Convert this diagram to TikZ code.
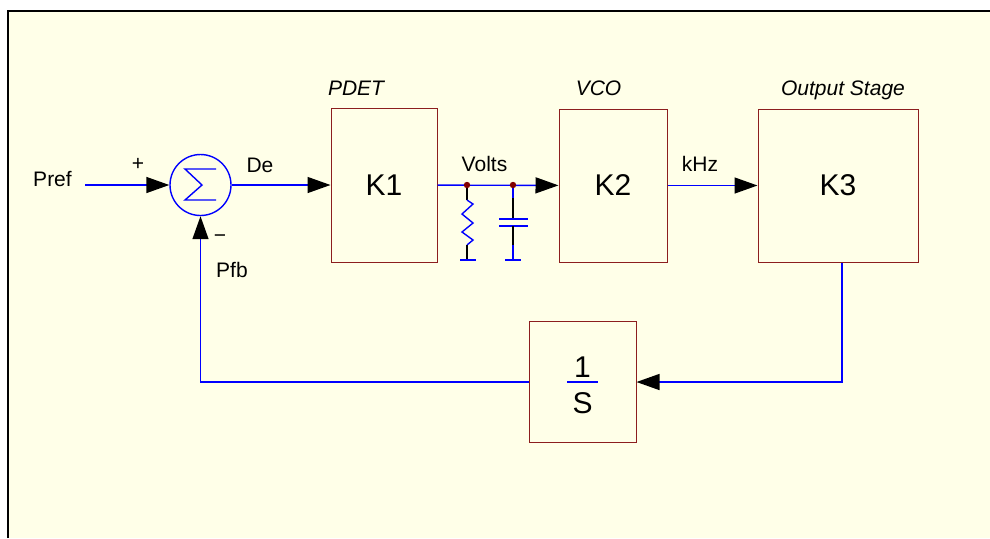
\documentclass[tikz,border=0pt]{standalone}
\usepackage{fontspec}
\setmainfont{Liberation Sans}
\usetikzlibrary{arrows.meta}

\definecolor{cream}{RGB}{255,255,232}
\definecolor{boxred}{RGB}{140,30,30}
\definecolor{wireblue}{RGB}{0,0,255}
\definecolor{dotred}{RGB}{128,0,0}

\tikzset{
	block/.style = {draw=boxred, line width=0.5pt, inner sep=0pt, font=\fontsize{15}{18}\selectfont},
	sigwire/.style = {draw=wireblue, line width=0.7pt},
	darkwire/.style = {draw=black, line width=0.7pt},
	sigarrow/.style = {sigwire, -{Triangle[length=11.5pt, width=8pt, color=black]}},
	lbl/.style = {font=\fontsize{10.5}{12}\selectfont, anchor=base, inner sep=0pt},
	ilbl/.style = {lbl, font=\fontsize{10.5}{12}\selectfont\itshape}
}

\begin{document}
\begin{tikzpicture}[x=0.5pt, y=-0.5pt]
		%frame
		\useasboundingbox (0,0) rectangle (990,538);
		\fill[white] (0,0) rectangle (990,538);
		\fill[cream] (8,11) rectangle (990,538);
		\draw[line width=1pt] (8,538) -- (8,11) -- (990,11);
		
		%blocks
		\node[block, minimum width=53pt, minimum height=77pt] (k1) at (384,185) {K1};
		\node[block, minimum width=54pt, minimum height=76.5pt] (k2) at (613,185.5) {K2};
		\node[block, minimum width=80pt, minimum height=76.5pt] (k3) at (838,185.5) {K3};
		\node[block, minimum width=53.5pt, minimum height=60.5pt] (integ) at (582.5,382) {};
		
		%summing junction
		\node[circle, draw=wireblue, line width=0.7pt, minimum size=30.5pt, inner sep=0pt] (sum) at (200.5,185) {};
		\draw[sigwire] (216,169) -- (185,169) -- (202,185) -- (185,200) -- (216,200);
		
		%points
		\coordinate (pin) at (85,185);
		\coordinate (v1) at (467,185);
		\coordinate (v2) at (513,185);
		\coordinate (c1) at (842,382);
		\coordinate (c2) at (200.5,382);
		
		%forward path
		\draw[sigarrow] (pin) -- (sum);
		\draw[sigarrow] (sum) -- (k1);
		\draw[sigarrow] (k1) -- (k2);
		\draw[sigarrow] (k2) -- (k3);
		
		%feedback path
		\draw[sigarrow] (k3.south -| c1) -- (c1) -- (integ);
		\draw[sigarrow] (integ) -- (c2) -- (sum);
		
		%filter: resistor
		\draw[darkwire] (v1) -- (467,200);
		\draw[sigwire] (467,200) -- (473,204) -- (462,214) -- (473,223) -- (462,232) -- (473,240) -- (467,245);
		\draw[darkwire] (467,245) -- (467,260);
		\draw[sigwire] (460,260) -- (476,260);
		
		%filter: capacitor
		\draw[sigwire] (v2) -- (513,198);
		\draw[darkwire] (513,198) -- (513,219);
		\draw[sigwire] (499,219) -- (528,219) (499,226) -- (528,226);
		\draw[darkwire] (513,226) -- (513,245);
		\draw[sigwire] (513,245) -- (513,260) (505,260) -- (521,260);
		
		\fill[dotred] (v1) circle [radius = 1.6pt];
		\fill[dotred] (v2) circle [radius = 1.6pt];
		
		%integrator
		\draw[sigwire] (567,382) -- (598,382);
		\node[lbl, font=\fontsize{15}{18}\selectfont] (one) at (582.5,377) {1};
		\node[lbl, font=\fontsize{15}{18}\selectfont] (ess) at (582.5,413) {S};
		
		%labels
		\node[lbl] (pref) at (52.5,186) {Pref};
		\node[lbl] (plus) at (138,170.5) {+};
		\node[lbl] (minus) at (220,242) {−};
		\node[lbl] (de) at (260,172) {De};
		\node[lbl] (pfb) at (232,277) {Pfb};
		\node[lbl] (volts) at (484.5,171) {Volts};
		\node[lbl] (khz) at (700,171) {kHz};
		\node[ilbl] (pdet) at (356,95) {PDET};
		\node[ilbl] (vco) at (598.5,95) {VCO};
		\node[ilbl] (outst) at (843,95) {Output Stage};
	\end{tikzpicture}
\end{document}
